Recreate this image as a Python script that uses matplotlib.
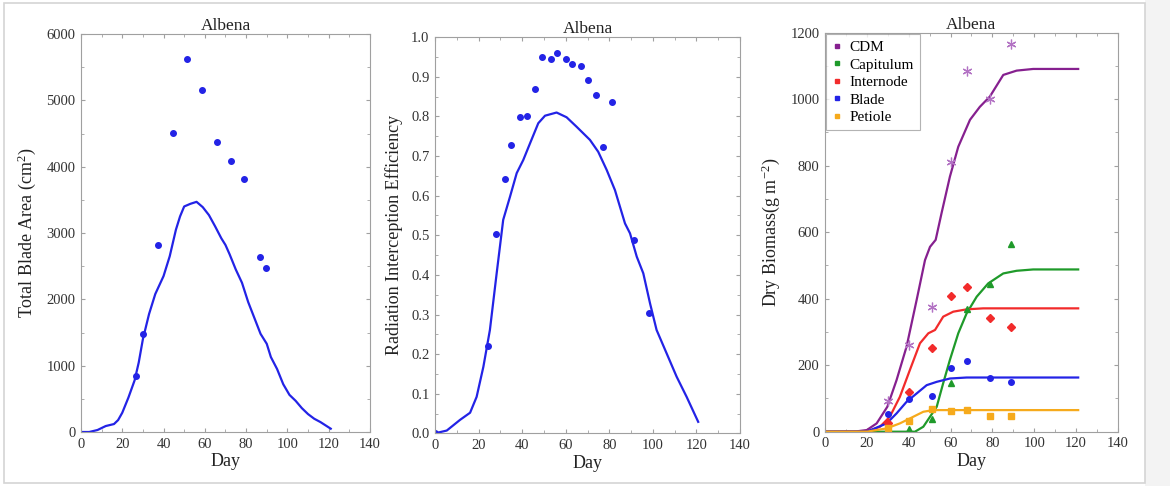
import matplotlib
matplotlib.use("Agg")
import matplotlib.pyplot as plt
from matplotlib.ticker import MultipleLocator, FormatStrFormatter
from matplotlib.patches import Rectangle

plt.rcParams['font.family'] = ['Liberation Serif', 'DejaVu Serif']
plt.rcParams['mathtext.fontset'] = 'custom'
plt.rcParams['mathtext.rm'] = 'Liberation Serif'
plt.rcParams['mathtext.it'] = 'Liberation Serif:italic'

# --- Total blade area (cm2) ---
blade_sim_day = [0, 4, 8, 12, 16, 18, 20, 23, 26, 28, 30, 33, 36, 40, 43, 46, 48, 50, 53, 56,
                 59, 62, 65, 68, 70, 72, 75, 78, 81, 84, 87, 90, 92, 95, 98, 101, 104, 107,
                 110, 113, 116, 119, 121]
blade_sim = [0, 0, 30, 90, 120, 180, 290, 520, 780, 1050, 1400, 1780, 2080, 2350, 2650, 3050,
             3250, 3400, 3440, 3470, 3390, 3270, 3100, 2920, 2820, 2680, 2450, 2250, 1960, 1720,
             1480, 1330, 1130, 950, 720, 560, 470, 360, 270, 200, 150, 90, 50]
blade_obs_day = [26.6, 29.9, 37.5, 44.7, 51.6, 58.6, 65.7, 72.7, 78.8, 86.5, 89.8]
blade_obs = [849, 1473, 2816, 4505, 5621, 5154, 4370, 4088, 3820, 2644, 2478]

# --- Radiation interception efficiency ---
rie_sim_day = [0, 5.4, 11.5, 16.1, 19.1, 22.2, 25.2, 28.3, 31.3, 34.4, 37.5, 40.5, 43.6, 47.4,
               50.5, 55.8, 60.4, 65.0, 71.1, 74.9, 78.8, 82.6, 87.2, 89.5, 92.6, 95.6, 98.7,
               101.7, 106.3, 110.9, 115.5, 120.8]
rie_sim = [0.0, 0.007, 0.034, 0.052, 0.092, 0.168, 0.261, 0.404, 0.539, 0.597, 0.657, 0.690,
           0.732, 0.783, 0.802, 0.810, 0.798, 0.774, 0.741, 0.711, 0.665, 0.614, 0.530, 0.505,
           0.446, 0.404, 0.328, 0.261, 0.202, 0.143, 0.092, 0.029]
rie_obs_day = [0, 24.2, 28.0, 32.0, 35.0, 39.0, 42.1, 46.0, 49.1, 53.1, 56.0, 60.0, 63.0, 67.0,
               70.2, 74.0, 77.1, 81.1, 91.2, 98.2]
rie_obs = [0.0, 0.221, 0.504, 0.641, 0.728, 0.799, 0.801, 0.869, 0.949, 0.944, 0.961, 0.946,
           0.933, 0.927, 0.893, 0.853, 0.722, 0.837, 0.488, 0.303]

# --- Dry biomass (g m-2) ---
obs_day = [30, 40, 51, 60, 68, 79, 89]
cdm_obs = [93, 261, 374, 810, 1086, 1000, 1165]
cap_obs = [0, 7, 38, 147, 369, 445, 564]
int_obs = [25, 120, 251, 409, 434, 343, 314]
bla_obs = [53, 97, 108, 191, 214, 162, 149]
pet_obs = [12, 33, 68, 63, 65, 48, 47]

cdm_day = [0, 15, 20, 24.7, 29.8, 34.2, 39, 43.8, 47.8, 50.2, 52.9, 55.7, 59.7, 63.7, 69.3, 74,
           78.8, 85.2, 91.6, 99.5, 121]
cdm_sim = [0, 1, 5, 25, 75, 155, 256, 396, 516, 556, 577, 657, 767, 857, 938, 977, 1008, 1073,
           1086, 1091, 1091]
cap_day = [0, 43, 47, 50.2, 53.4, 56.5, 59.7, 63.7, 67.7, 72.5, 78, 85.2, 91.6, 99.5, 121]
cap_sim = [0, 0, 15, 45, 75, 146, 216, 296, 356, 406, 446, 476, 484, 488, 488]
int_day = [0, 20, 26.3, 31, 35.8, 40.6, 45.4, 49.4, 52.6, 56.5, 61.3, 67.7, 75.6, 121]
int_sim = [0, 0, 15, 45, 105, 186, 266, 296, 306, 346, 361, 368, 371, 371]
bla_day = [0, 20, 29.5, 34.2, 39, 43.8, 48.6, 53.4, 59.7, 67.7, 121]
bla_sim = [0, 0, 25, 55, 90, 115, 140, 150, 160, 163, 163]
pet_day = [0, 20, 29.5, 35.8, 42.2, 47, 51.7, 60, 121]
pet_sim = [0, 0, 10, 25, 45, 60, 65, 65, 65]

BLUE = '#2323e6'
PURPLE = '#86208f'
GREEN = '#1f9a2a'
RED = '#f22b2b'
ORANGE = '#f6aa1c'
SPINE = '#a0a0a0'


def style_axes(ax, ymax, ymajor, yminor, fmt=None):
    ax.set_xlim(0, 140)
    ax.set_ylim(0, ymax)
    ax.xaxis.set_major_locator(MultipleLocator(20))
    ax.xaxis.set_minor_locator(MultipleLocator(10))
    ax.yaxis.set_major_locator(MultipleLocator(ymajor))
    ax.yaxis.set_minor_locator(MultipleLocator(yminor))
    if fmt:
        ax.yaxis.set_major_formatter(FormatStrFormatter(fmt))
    ax.tick_params(which='both', direction='in', top=True, right=True, color=SPINE,
                   labelsize=10.5, labelcolor='#333333', pad=4)
    ax.tick_params(which='major', length=3)
    ax.tick_params(which='minor', length=2)
    for s in ax.spines.values():
        s.set_color(SPINE)
        s.set_linewidth(0.8)
    ax.set_title('Albena', fontsize=12.5, pad=3, color='#222222')
    ax.set_xlabel('Day', fontsize=13, labelpad=2, color='#222222')


fig = plt.figure(figsize=(11.7, 4.86), dpi=100)
fig.patches.append(Rectangle((0.9785, 0), 0.0215, 1, transform=fig.transFigure,
                             facecolor='#f3f3f3', edgecolor='none', zorder=-2))
fig.patches.append(Rectangle((0.003, 0.006), 0.9755, 0.988, transform=fig.transFigure,
                             facecolor='none', edgecolor='#d4d4d4', linewidth=1.2, zorder=-1))

ax1 = fig.add_axes([0.0692, 0.1111, 0.2470, 0.8189])
ax1.plot(blade_sim_day, blade_sim, color=BLUE, lw=1.6)
ax1.plot(blade_obs_day, blade_obs, 'o', color=BLUE, ms=4)
style_axes(ax1, 6000, 1000, 500)
ax1.set_ylabel('Total Blade Area (cm$^2$)', fontsize=13, labelpad=6, color='#222222')

ax2 = fig.add_axes([0.3718, 0.1084, 0.2607, 0.8149])
ax2.plot(rie_sim_day, rie_sim, color=BLUE, lw=1.6)
ax2.plot(rie_obs_day, rie_obs, 'o', color=BLUE, ms=4)
style_axes(ax2, 1.0, 0.1, 0.05, '%.1f')
ax2.set_ylabel('Radiation Interception Efficiency', fontsize=13, labelpad=6, color='#222222')

ax3 = fig.add_axes([0.7051, 0.1117, 0.2504, 0.8210])
ax3.plot(cdm_day, cdm_sim, color=PURPLE, lw=1.6)
ax3.plot(cap_day, cap_sim, color=GREEN, lw=1.6)
ax3.plot(int_day, int_sim, color=RED, lw=1.6)
ax3.plot(bla_day, bla_sim, color=BLUE, lw=1.6)
ax3.plot(pet_day, pet_sim, color=ORANGE, lw=1.6)
ax3.plot(obs_day, cdm_obs, ls='none', marker=(6, 2, 0), color='#b373c4', ms=7, mew=0.9)
ax3.plot(obs_day, cap_obs, '^', color=GREEN, ms=5)
ax3.plot(obs_day, int_obs, 'D', color=RED, ms=4)
ax3.plot(obs_day, bla_obs, 'o', color=BLUE, ms=4)
ax3.plot(obs_day, pet_obs, 's', color=ORANGE, ms=4)
style_axes(ax3, 1200, 200, 100)
ax3.set_ylabel('Dry Biomass(g m$^{-2}$)', fontsize=13, labelpad=6, color='#222222')

names = ['CDM', 'Capitulum', 'Internode', 'Blade', 'Petiole']
colors = [PURPLE, GREEN, RED, BLUE, ORANGE]
handles = [plt.Line2D([], [], marker='s', ls='none', color=c, ms=3) for c in colors]
leg = ax3.legend(handles, names, loc='upper left', fontsize=11, frameon=True, fancybox=False,
                 borderaxespad=0.1, handlelength=0.6, handletextpad=0.5, labelspacing=0.25,
                 borderpad=0.4)
leg.get_frame().set_edgecolor(SPINE)
leg.get_frame().set_linewidth(0.8)

fig.savefig('out.png', dpi=100)
